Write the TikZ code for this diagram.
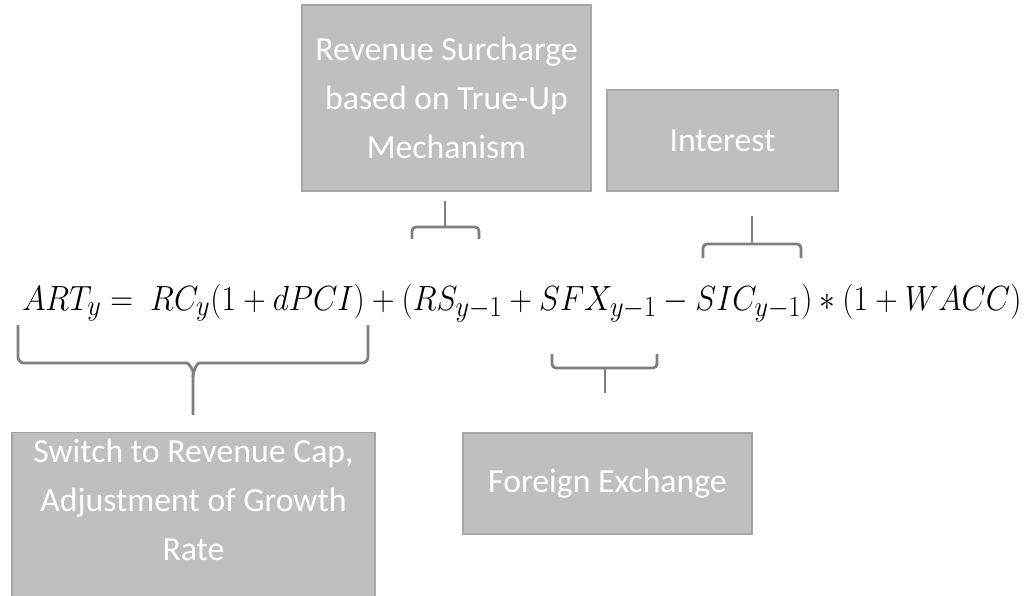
\documentclass[tikz,border=0pt]{standalone}
\usepackage[no-math]{fontspec}
\setmainfont{Carlito}
\usepackage{graphicx}
\usetikzlibrary{calc}
\definecolor{boxfill}{HTML}{BFBFBF}
\definecolor{boxline}{HTML}{A6A6A6}
\definecolor{bracecol}{HTML}{7F7F7F}
\tikzset{
  gbox/.style={draw=boxline, line width=0.03cm, fill=boxfill, inner sep=0pt},
  boxtext/.style={text=white, font=\fontsize{24}{34.8}\selectfont, align=center, inner sep=0pt},
  bracepath/.style={draw=bracecol, line width=0.07cm, rounded corners=0.15cm},
  smallbrace/.style={bracepath, rounded corners=0.1cm},
}
\begin{document}
\begin{tikzpicture}[x=0.025cm, y=-0.025cm]
\useasboundingbox (0,0) rectangle (1031,595);
\clip (0,0) rectangle (1031,595);

% the formula
\node[anchor=base west, inner sep=0pt] (eq) at (22,310)
  {\resizebox{24.975cm}{\height}{\fontsize{29}{35}\selectfont
   $ART_y =\ RC_y(1+dPCI)+\bigl(RS_{y-1}+SFX_{y-1}-SIC_{y-1}\bigr)\ast(1+WACC)$}};

% explanatory boxes
\node[gbox, minimum width=7.225cm, minimum height=4.65cm, boxtext] (rsbox) at (446.5,98)
  {Revenue Surcharge\\based on True-Up\\Mechanism};
\node[gbox, minimum width=5.775cm, minimum height=2.525cm, boxtext] (intbox) at (722.5,140.5)
  {Interest};
\node[gbox, minimum width=9.075cm, minimum height=5cm, anchor=north] (capbox) at (193.5,432) {};
\node[boxtext, anchor=base] (captext) at ($(capbox.north)+(0,128)$)
  {Switch to Revenue Cap,\\Adjustment of Growth\\Rate};
\node[gbox, minimum width=7.225cm, minimum height=2.525cm, boxtext] (fxbox) at (607.5,483.5)
  {Foreign Exchange};

% brace under ART_y = RC_y(1+dPCI)
\coordinate (capL) at (18,325);
\coordinate (capR) at (368,325);
\coordinate (capM) at (193,363);
\coordinate (capT) at (193,415);
\draw[bracepath] (capL) |- ($(capM)+(-12,0)$) to[out=0,in=90] ($(capM)+(0,14)$) -- (capT);
\draw[bracepath] (capR) |- ($(capM)+(12,0)$) to[out=180,in=90] ($(capM)+(0,14)$);

% brace over RS
\coordinate (rsL) at (412,239);
\coordinate (rsR) at (479,239);
\coordinate (rsM) at (445,227);
\coordinate (rsT) at (445,201);
\draw[smallbrace] (rsL) |- (rsM) -| (rsR);
\draw[bracepath] (rsM) -- (rsT);

% brace over SIC
\coordinate (sicL) at (703,258);
\coordinate (sicR) at (801,258);
\coordinate (sicM) at (752,244);
\coordinate (sicT) at (752,216);
\draw[smallbrace] (sicL) |- (sicM) -| (sicR);
\draw[bracepath] (sicM) -- (sicT);

% brace under SFX
\coordinate (fxL) at (552,354);
\coordinate (fxR) at (657,354);
\coordinate (fxM) at (605,368);
\coordinate (fxT) at (605,393);
\draw[smallbrace] (fxL) |- (fxM) -| (fxR);
\draw[bracepath] (fxM) -- (fxT);
\end{tikzpicture}
\end{document}
